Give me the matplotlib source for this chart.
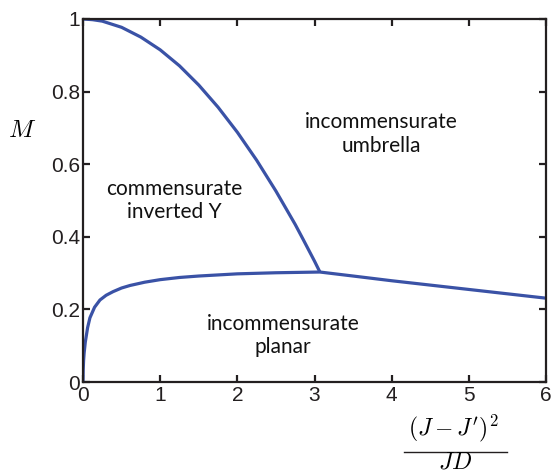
import matplotlib
matplotlib.use("Agg")
import matplotlib.pyplot as plt
from matplotlib.lines import Line2D

plt.rcParams['mathtext.fontset'] = 'cm'

# Boundary between commensurate inverted-Y and incommensurate umbrella phases
upper_x = [0.0, 0.125, 0.25, 0.5, 0.75, 1.0, 1.25, 1.5, 1.75, 2.0, 2.25, 2.5, 2.75, 2.85, 3.0, 3.07]
upper_m = [1.0, 0.998, 0.994, 0.977, 0.950, 0.915, 0.871, 0.818, 0.757, 0.688, 0.611, 0.526, 0.434, 0.394, 0.333, 0.303]

# Lower boundary of the planar phase
lower_x = [0.0, 0.003, 0.008, 0.015, 0.03, 0.06, 0.09, 0.15, 0.22, 0.3, 0.39, 0.5, 0.61, 0.8, 1.0, 1.25, 1.5, 2.0, 2.5, 3.07, 3.5, 4.0, 4.5, 5.0, 5.5, 6.0]
lower_m = [0.0, 0.035, 0.060, 0.080, 0.110, 0.150, 0.177, 0.206, 0.226, 0.239, 0.249, 0.259, 0.266, 0.275, 0.282, 0.288, 0.292, 0.298, 0.301, 0.303, 0.292, 0.279, 0.267, 0.255, 0.243, 0.231]

x_ticks = [0, 1, 2, 3, 4, 5, 6]
y_ticks = [0, 0.2, 0.4, 0.6, 0.8, 1]
y_tick_labels = ["0", "0.2", "0.4", "0.6", "0.8", "1"]

line_color = "#3a52a6"
ink = "#231f20"

fig = plt.figure(figsize=(5.54, 4.74), dpi=100)
ax = fig.add_axes([0.1498, 0.194, 0.8358, 0.766])

ax.plot(upper_x, upper_m, color=line_color, lw=2.3, solid_capstyle='butt', solid_joinstyle='round')
ax.plot(lower_x, lower_m, color=line_color, lw=2.3, solid_capstyle='butt', solid_joinstyle='round')

ax.set_xlim(0, 6)
ax.set_ylim(0, 1)
ax.set_xticks(x_ticks)
ax.set_yticks(y_ticks)
ax.set_yticklabels(y_tick_labels)

for s in ax.spines.values():
    s.set_linewidth(1.6)
    s.set_color(ink)
ax.tick_params(direction='in', length=5, width=1.6, top=True, right=True,
               labelsize=15, colors=ink, pad=2)
ax.tick_params(axis='x', pad=3)
for lab in ax.get_xticklabels() + ax.get_yticklabels():
    lab.set_fontfamily('Liberation Sans')

region_font = dict(fontfamily='Lato', fontsize=15, color='#111111',
                   ha='center', va='center', linespacing=1.2)
ax.text(1.18, 0.500, "commensurate\ninverted Y", **region_font)
ax.text(3.87, 0.683, "incommensurate\numbrella", **region_font)
ax.text(2.59, 0.129, "incommensurate\nplanar", **region_font)

# axis labels
fig.text(0.040, 0.726, r"$M$", fontsize=18, ha='center', va='center')
# x label as a stacked fraction: numerator, bar, denominator
fig.text(0.818, 0.097, r"$(J-J^{\prime})^{2}$", fontsize=17, ha='center', va='center')
fig.add_artist(Line2D([0.729, 0.915], [0.046, 0.046], transform=fig.transFigure,
                      color=ink, lw=1.0))
fig.text(0.821, 0.002, r"$JD$", fontsize=17, ha='center', va='bottom')

fig.savefig("out.png", dpi=100)
